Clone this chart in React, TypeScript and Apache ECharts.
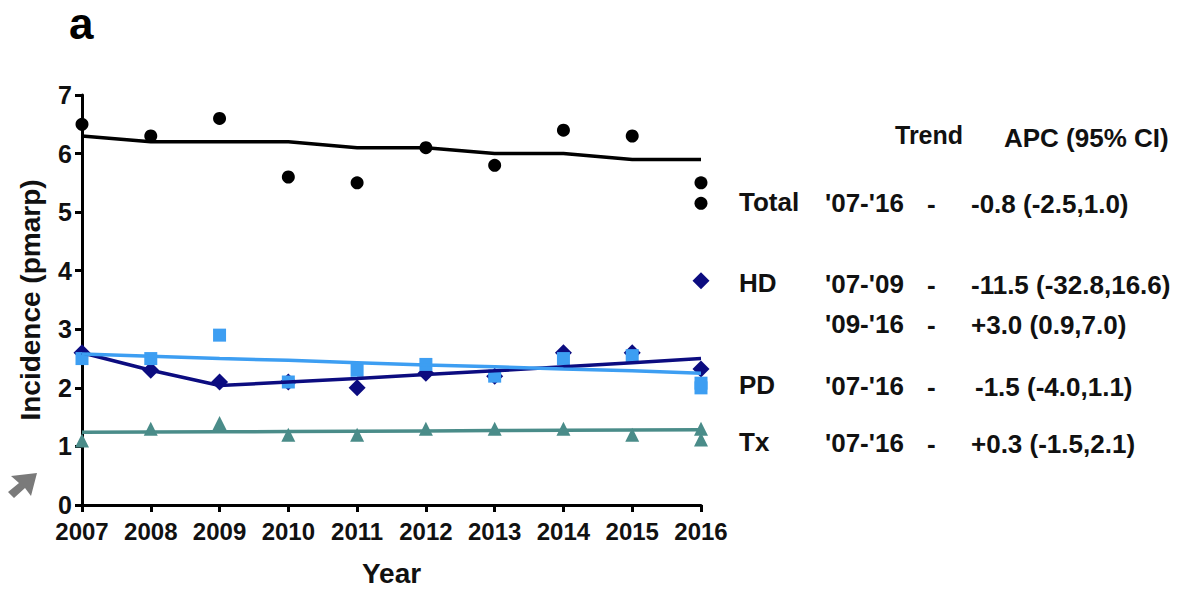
import React, { useEffect, useRef } from "react";
import * as echarts from "echarts";

const years = [2007, 2008, 2009, 2010, 2011, 2012, 2013, 2014, 2015, 2016];
const yTicks = [0, 1, 2, 3, 4, 5, 6, 7];

const totalObs = [6.5, 6.3, 6.6, 5.6, 5.5, 6.1, 5.8, 6.4, 6.3, 5.5];
const totalFit = [6.3, 6.2, 6.2, 6.2, 6.1, 6.1, 6.0, 6.0, 5.9, 5.9];
const hdObs = [2.6, 2.3, 2.1, 2.1, 2.0, 2.25, 2.2, 2.6, 2.6, 2.32];
const hdFit = [2.6, 2.3, 2.04, 2.1, 2.16, 2.23, 2.29, 2.36, 2.43, 2.5];
const pdObs = [2.5, 2.5, 2.9, 2.1, 2.3, 2.4, 2.2, 2.5, 2.55, 2.0];
const pdFit = [2.58, 2.54, 2.5, 2.47, 2.43, 2.39, 2.36, 2.32, 2.29, 2.25];
const txObs = [1.1, 1.3, 1.4, 1.2, 1.2, 1.3, 1.3, 1.3, 1.2, 1.3];
const txFit = [1.24, 1.245, 1.25, 1.255, 1.26, 1.265, 1.27, 1.275, 1.28, 1.285];

// legend markers drawn at the last year, in data units
const legendNames = ["Total", "HD", "PD", "Tx"];
const legendMarkerValues = [5.15, 3.83, 2.08, 1.12];

const tableHeader = ["Trend", "APC (95% CI)"];
const tableGroups = ["Total", "HD", "", "PD", "Tx"];
const tablePeriods = ["'07-'16", "'07-'09", "'09-'16", "'07-'16", "'07-'16"];
const tableApc = ["-0.8 (-2.5,1.0)", "-11.5 (-32.8,16.6)", "+3.0 (0.9,7.0)", "-1.5 (-4.0,1.1)", "+0.3 (-1.5,2.1)"];

const C_TOTAL = "#000000";
const C_HD = "#0c0c80";
const C_PD = "#3d9ef2";
const C_TX = "#4a8c89";

const FONT = "'Liberation Sans', Arial, Helvetica, sans-serif";

export default function App() {
  const ref = useRef<HTMLDivElement>(null);

  useEffect(() => {
    if (!ref.current) return;
    const chart = echarts.init(ref.current, null, { renderer: "svg" });
    const pair = (arr: number[]) => arr.map((v, i) => [years[i], v]);
    const last = years[years.length - 1];

    const rowY = [203, 284, 324, 386, 443];
    const textStyle = (t: string, x: number, y: number, size = 26) => ({
      type: "text",
      left: x,
      top: y - size / 2 - 1,
      style: { text: t, fill: "#111", font: `bold ${size}px ${FONT}` },
    });

    const graphics: any[] = [
      { type: "text", left: 69, top: 1, style: { text: "a", fill: "#000", font: `bold 44px ${FONT}` } },
      textStyle(tableHeader[0], 895, 136, 25),
      textStyle(tableHeader[1], 1004, 139, 26),
      {
        type: "polygon",
        shape: {
          points: [
            [37, 473], [11, 476], [19, 483], [8, 492], [14, 498], [25, 488], [31, 496],
          ],
        },
        style: { fill: "#7a7a7a" },
      },
    ];
    tableGroups.forEach((g, i) => {
      if (g) graphics.push(textStyle(g, 739, rowY[i]));
      graphics.push(textStyle(tablePeriods[i], 825, rowY[i] + 1));
      graphics.push(textStyle("-", 927, rowY[i] + 2));
      const x = tableApc[i].startsWith("-1.5") ? 975 : 971;
      graphics.push(textStyle(tableApc[i], x, rowY[i] + 2));
    });

    const legendPts = legendMarkerValues.map((v) => [last, v]);
    const solid = (c: string) => ({ color: c, opacity: 1 });

    chart.setOption({
      animation: false,
      grid: { left: 82, right: 477, top: 95, bottom: 83, containLabel: false },
      xAxis: {
        type: "value",
        min: 2007,
        max: 2016,
        interval: 1,
        name: "Year",
        nameLocation: "middle",
        nameGap: 54,
        nameTextStyle: { fontFamily: FONT, fontWeight: "bold", fontSize: 28, color: "#111" },
        axisLine: { lineStyle: { color: "#000", width: 3 } },
        axisTick: { length: 7, lineStyle: { color: "#000", width: 3 } },
        axisLabel: {
          fontFamily: FONT,
          fontWeight: "bold",
          fontSize: 24,
          color: "#111",
          margin: 14,
          formatter: (v: number) => String(v),
        },
        splitLine: { show: false },
      },
      yAxis: {
        type: "value",
        min: yTicks[0],
        max: yTicks[yTicks.length - 1],
        interval: 1,
        name: "Incidence (pmarp)",
        nameLocation: "middle",
        nameGap: 38,
        nameTextStyle: { fontFamily: FONT, fontWeight: "bold", fontSize: 28, color: "#111" },
        axisLine: { show: true, lineStyle: { color: "#000", width: 3 } },
        axisTick: { show: true, length: 7, lineStyle: { color: "#000", width: 3 } },
        axisLabel: { fontFamily: FONT, fontWeight: "bold", fontSize: 25, color: "#111", margin: 10 },
        splitLine: { show: false },
      },
      graphic: graphics,
      series: [
        { name: "Total", type: "scatter", data: pair(totalObs), symbol: "circle", symbolSize: 13, itemStyle: solid(C_TOTAL), z: 3 },
        { name: "HD", type: "scatter", data: pair(hdObs), symbol: "diamond", symbolSize: 17, itemStyle: solid(C_HD), z: 3 },
        { name: "PD", type: "scatter", data: pair(pdObs), symbol: "rect", symbolSize: 13, itemStyle: solid(C_PD), z: 4 },
        { name: "Tx", type: "scatter", data: pair(txObs), symbol: "triangle", symbolSize: 14, itemStyle: solid(C_TX), z: 3 },
        { name: "Total fit", type: "line", data: pair(totalFit), showSymbol: false, lineStyle: { color: C_TOTAL, width: 3.5 }, z: 5 },
        { name: "HD fit", type: "line", data: pair(hdFit), showSymbol: false, lineStyle: { color: C_HD, width: 3.5 }, z: 5 },
        { name: "PD fit", type: "line", data: pair(pdFit), showSymbol: false, lineStyle: { color: C_PD, width: 3.5 }, z: 5 },
        { name: "Tx fit", type: "line", data: pair(txFit), showSymbol: false, lineStyle: { color: C_TX, width: 3.5 }, z: 5 },
        {
          name: "legend markers",
          type: "scatter",
          data: legendPts.map((p, i) => ({
            value: p,
            name: legendNames[i],
            symbol: ["circle", "diamond", "rect", "triangle"][i],
            symbolSize: [13, 17, 13, 14][i],
            itemStyle: solid([C_TOTAL, C_HD, C_PD, C_TX][i]),
          })),
          z: 4,
        },
      ],
    });
    return () => chart.dispose();
  }, []);

  return (
    <div
      ref={ref}
      style={{ position: "fixed", left: 0, top: 0, width: 1178, height: 592, background: "#fff" }}
    />
  );
}
